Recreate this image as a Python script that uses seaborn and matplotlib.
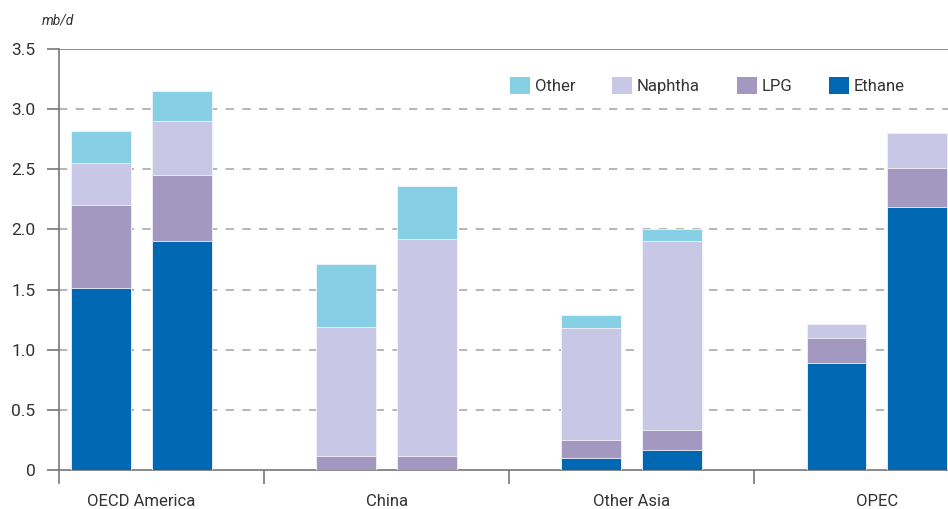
import pandas as pd
import seaborn as sns
import matplotlib.pyplot as plt
from matplotlib.patches import Patch

regions = ["OECD America", "China", "Other Asia", "OPEC"]
periods = ["first", "second"]
ethane = [1.51, 1.90, 0.0, 0.0, 0.10, 0.17, 0.89, 2.19]
lpg = [0.69, 0.55, 0.12, 0.12, 0.15, 0.16, 0.21, 0.32]
naphtha = [0.35, 0.45, 1.07, 1.80, 0.93, 1.57, 0.11, 0.29]
other = [0.27, 0.25, 0.52, 0.44, 0.11, 0.10, 0.0, 0.0]

series = ["Other", "Naphtha", "LPG", "Ethane"]
colors = {"Other": "#87cfe4", "Naphtha": "#c8c8e6", "LPG": "#a398c0", "Ethane": "#0068b3"}

df = pd.DataFrame({
    "region": [r for r in regions for _ in periods],
    "period": periods * len(regions),
    "Ethane": ethane, "LPG": lpg, "Naphtha": naphtha, "Other": other,
})
df["c_Ethane"] = df["Ethane"]
df["c_LPG"] = df["c_Ethane"] + df["LPG"]
df["c_Naphtha"] = df["c_LPG"] + df["Naphtha"]
df["c_Other"] = df["c_Naphtha"] + df["Other"]

sns.set_style("white")
plt.rcParams["font.family"] = ["Roboto", "DejaVu Sans"]
fig = plt.figure(figsize=(9.48, 5.09), dpi=100)
ax = fig.add_axes([0.0622, 0.0766, 0.9378, 0.8271])

for s in series:
    sns.barplot(data=df, x="region", y="c_" + s, hue="period", order=regions,
                palette=[colors[s], colors[s]], saturation=1, width=0.66, gap=0.26,
                edgecolor="#f4f4f8", linewidth=0.6, legend=False, ax=ax, zorder=3)

ax.set_ylim(0, 3.5)
ax.set_xlim(-0.337, 3.29)
ax.set_yticks([0, 0.5, 1.0, 1.5, 2.0, 2.5, 3.0, 3.5])
ax.set_yticklabels(["0", "0.5", "1.0", "1.5", "2.0", "2.5", "3.0", "3.5"])
for y in [0.5, 1.0, 1.5, 2.0, 2.5, 3.0]:
    ax.axhline(y, color="#aaaaaa", linestyle=(0, (5, 5)), linewidth=1.2, zorder=1)
ax.axhline(3.5, color="#777777", linewidth=1.2, zorder=1)
ax.set_xlabel("")
ax.set_ylabel("")
for sp in ["top", "right"]:
    ax.spines[sp].set_visible(False)
for sp in ["left", "bottom"]:
    ax.spines[sp].set_color("#777777")
    ax.spines[sp].set_linewidth(1.2)
ax.spines["left"].set_bounds(-0.11, 3.5)
ax.tick_params(axis="y", length=9, width=1.2, color="#777777", pad=8,
               labelsize=12.5, labelcolor="#333333", left=True)
ax.tick_params(axis="x", which="major", length=0, pad=17, labelsize=12,
               labelcolor="#333333")
ax.set_xticks([0.5, 1.5, 2.5], minor=True)
ax.tick_params(axis="x", which="minor", length=10, width=1.2, color="#777777",
               bottom=True)

fig.text(0.044, 0.952, "mb/d", fontsize=10, fontstyle="italic", color="#333333")

handles = [Patch(facecolor=colors[s], edgecolor="none") for s in series]
ax.legend(handles, series, ncol=4, loc="center left", bbox_to_anchor=(0.507, 0.914),
          frameon=False, fontsize=12, handlelength=1.2, handleheight=1.2,
          handletextpad=0.3, columnspacing=2.2, borderpad=0, borderaxespad=0,
          labelcolor="#333333")

fig.savefig("out.png", dpi=100)
